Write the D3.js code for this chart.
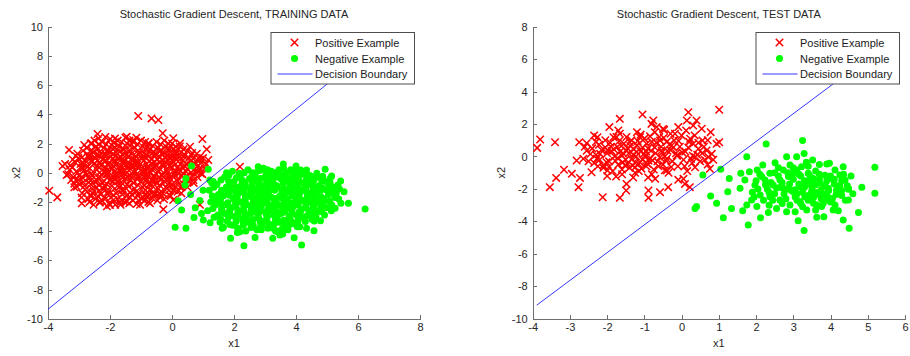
<!DOCTYPE html>
<html>
<head>
<meta charset="utf-8">
<script src="https://cdn.jsdelivr.net/npm/d3@7"></script>
<style>
body { margin: 0; background: #fff; }
svg { display: block; font-family: "Liberation Sans", Arial, sans-serif; }
.axis path, .axis line { stroke: #6e6e6e; shape-rendering: crispEdges; }
.axis text { fill: #262626; font-size: 11px; font-family: "Liberation Sans", Arial, sans-serif; }
</style>
</head>
<body>
<svg id="chart" width="910" height="356"></svg>
<script>
// training data, positive class (red x)
const trainPos = [
  [-1.09,3.88],[-0.66,3.72],[-0.44,3.61],[-0.30,2.70],[-2.40,2.65],[-3.32,1.56],[-3.96,-1.23],[-3.70,-1.69],
  [-2.91,-2.10],[-0.28,-2.51],[-1.14,-2.14],[0.98,2.31],[1.12,1.60],[1.17,0.87],[0.58,1.78],[-3.53,0.46],
  [-3.40,-0.16],[-3.45,0.60],[-3.07,-0.96],[-3.02,-0.50],[-2.86,0.30],[-2.70,1.10],[-2.59,2.01],[-1.84,2.35],
  [-1.46,2.47],[-1.25,2.24],[-0.76,2.01],[0.04,2.36],[0.26,2.01],[0.63,1.21],[0.80,0.87],[0.85,0.07],
  [0.47,-0.27],[0.31,-0.96],[0.04,-1.18],[-0.39,-1.41],[-0.82,-1.64],[-1.46,-1.98],[-1.89,-1.87],[-2.32,-1.98],
  [-2.65,-1.53],[-2.00,-2.21],[-1.68,-2.05],[-0.71,-2.10],[0.04,-1.87],[0.69,-0.50],[2.19,0.41],[1.9,-0.75],[0.9,-2.2],
  [-3.3,0.2],[-3.25,-0.5],[-3.2,0.9],[-3.35,-0.1],[-3.15,-1.0],[-3.28,0.5],
  [-3.05,1.3],[-2.95,0.6],[-3.0,-0.2],[-2.98,-0.8],[-3.08,0.1],[-2.9,-1.4],[-3.02,1.0],[-2.92,0.3],[-3.1,-0.5],
  [-2.75,1.7],[-2.7,1.2],[-2.8,0.8],[-2.72,0.4],[-2.78,0.0],[-2.68,-0.4],[-2.82,-0.9],[-2.74,-1.3],[-2.7,-1.8],[-2.85,0.55],[-2.65,0.95],[-2.76,-0.15],
  [-2.5,2.2],[-2.45,1.8],[-2.55,1.4],[-2.48,1.0],[-2.52,0.6],[-2.42,0.2],[-2.58,-0.2],[-2.5,-0.6],[-2.44,-1.0],[-2.56,-1.4],[-2.47,-1.8],[-2.53,-2.2],[-2.4,0.45],[-2.6,0.85],[-2.38,-0.35],[-2.62,-0.8],
  [-2.25,2.1],[-2.2,1.7],[-2.3,1.3],[-2.22,0.9],[-2.28,0.5],[-2.18,0.1],[-2.32,-0.3],[-2.24,-0.7],[-2.2,-1.1],[-2.3,-1.5],[-2.26,-1.9],[-2.15,2.45],[-2.35,0.7],[-2.12,-0.1],[-2.36,-1.25],[-2.14,1.15],
  [-2.0,2.3],[-1.95,1.9],[-2.05,1.5],[-1.98,1.1],[-2.02,0.7],[-1.92,0.3],[-2.08,-0.1],[-2.0,-0.5],[-1.94,-0.9],[-2.06,-1.3],[-1.97,-1.7],[-2.03,-2.1],[-1.9,0.95],[-2.1,0.15],[-1.88,-0.3],[-2.12,-0.75],[-1.9,1.6],
  [-1.75,2.2],[-1.7,1.8],[-1.8,1.4],[-1.72,1.0],[-1.78,0.6],[-1.68,0.2],[-1.82,-0.2],[-1.74,-0.6],[-1.7,-1.0],[-1.8,-1.4],[-1.76,-1.8],[-1.66,-2.2],[-1.85,0.85],[-1.64,0.45],[-1.86,-0.45],[-1.62,-1.2],[-1.6,1.25],
  [-1.5,2.4],[-1.45,2.0],[-1.55,1.6],[-1.48,1.2],[-1.52,0.8],[-1.42,0.4],[-1.58,0.0],[-1.5,-0.4],[-1.44,-0.8],[-1.56,-1.2],[-1.47,-1.6],[-1.53,-2.0],[-1.38,0.65],[-1.62,0.25],[-1.36,-0.15],[-1.64,-0.65],[-1.4,1.45],[-1.35,-1.35],
  [-1.25,2.1],[-1.2,1.7],[-1.3,1.3],[-1.22,0.9],[-1.28,0.5],[-1.18,0.1],[-1.32,-0.3],[-1.24,-0.7],[-1.2,-1.1],[-1.3,-1.5],[-1.26,-1.9],[-1.15,2.4],[-1.12,0.7],[-1.34,0.25],[-1.12,-0.45],[-1.1,-1.6],[-1.15,1.1],
  [-1.0,2.2],[-0.95,1.8],[-1.05,1.4],[-0.98,1.0],[-1.02,0.6],[-0.92,0.2],[-1.08,-0.2],[-1.0,-0.6],[-0.94,-1.0],[-1.06,-1.4],[-0.97,-1.8],[-1.03,-2.2],[-0.9,0.85],[-1.1,0.4],[-0.88,-0.35],[-0.9,1.35],[-0.86,-1.2],
  [-0.75,2.0],[-0.7,1.6],[-0.8,1.2],[-0.72,0.8],[-0.78,0.4],[-0.68,0.0],[-0.82,-0.4],[-0.74,-0.8],[-0.7,-1.2],[-0.8,-1.6],[-0.76,-2.0],[-0.65,0.6],[-0.85,0.15],[-0.62,-0.6],[-0.64,1.3],[-0.6,-1.5],
  [-0.5,2.1],[-0.45,1.7],[-0.55,1.3],[-0.48,0.9],[-0.52,0.5],[-0.42,0.1],[-0.58,-0.3],[-0.5,-0.7],[-0.44,-1.1],[-0.56,-1.5],[-0.47,-1.9],[-0.38,0.7],[-0.6,0.3],[-0.36,-0.5],[-0.4,1.45],[-0.35,-1.3],
  [-0.25,2.2],[-0.2,1.8],[-0.3,1.4],[-0.22,1.0],[-0.28,0.6],[-0.18,0.2],[-0.32,-0.2],[-0.24,-0.6],[-0.2,-1.0],[-0.3,-1.4],[-0.26,-1.8],[-0.12,0.8],[-0.14,-0.4],[-0.1,1.5],[-0.1,-1.2],
  [0.0,2.0],[0.05,1.6],[-0.05,1.2],[0.02,0.8],[-0.02,0.4],[0.08,0.0],[-0.06,-0.4],[0.0,-0.8],[0.06,-1.2],[-0.04,-1.6],[0.12,0.6],[0.1,-0.2],[0.14,1.3],
  [0.25,1.8],[0.3,1.4],[0.2,1.0],[0.28,0.6],[0.22,0.2],[0.32,-0.2],[0.18,-0.6],[0.26,-1.0],[0.35,0.35],[0.38,1.1],[0.3,-1.4],
  [0.5,1.5],[0.55,1.0],[0.45,0.6],[0.52,0.2],[0.48,-0.2],[0.56,-0.6],[0.6,0.8],[0.62,0.0],[0.5,-1.0],
  [0.8,1.3],[0.85,0.5],[0.75,0.1],[0.82,-0.3],[0.9,0.9],[0.7,-0.7],
  [1.0,1.0],[1.05,0.3],[0.98,-0.1],[1.1,0.6],
  [-3.12,0.7],[-3.18,-0.3],[-3.1,1.15],[-3.15,-0.75],[-3.22,0.35],
  [-2.87,1.5],[-2.9,1.05],[-2.84,0.15],[-2.88,-0.35],[-2.86,-0.65],[-2.8,-1.15],[-2.92,-1.7],[-2.83,1.9],
  [-2.62,2.0],[-2.6,1.55],[-2.64,1.15],[-2.58,0.75],[-2.66,0.3],[-2.6,-0.05],[-2.63,-0.55],[-2.57,-1.1],[-2.61,-1.6],[-2.66,-2.0],
  [-2.37,2.35],[-2.35,1.95],[-2.4,1.6],[-2.33,1.15],[-2.39,0.85],[-2.34,0.0],[-2.41,-0.55],[-2.35,-0.85],[-2.39,-1.6],[-2.33,-2.05],[-2.42,1.25],
  [-2.12,1.95],[-2.1,1.5],[-2.15,0.85],[-2.08,0.55],[-2.14,0.35],[-2.1,-0.35],[-2.16,-0.95],[-2.08,-1.45],[-2.13,-1.75],[-2.1,-2.3],[-2.15,1.3],
  [-1.87,2.05],[-1.85,1.75],[-1.9,1.3],[-1.83,1.15],[-1.89,0.45],[-1.84,0.1],[-1.9,-0.6],[-1.85,-1.1],[-1.88,-1.55],[-1.83,-2.2],[-1.86,0.7],[-1.82,-0.05],
  [-1.62,2.1],[-1.6,1.65],[-1.65,1.05],[-1.58,0.8],[-1.64,0.05],[-1.59,-0.35],[-1.66,-0.9],[-1.6,-1.5],[-1.63,-1.9],[-1.57,0.6],[-1.61,-0.15],[-1.67,1.45],
  [-1.37,2.2],[-1.35,1.85],[-1.4,1.15],[-1.33,0.9],[-1.39,0.15],[-1.34,-0.5],[-1.4,-0.95],[-1.35,-1.7],[-1.38,-2.1],[-1.32,0.5],[-1.41,-0.3],[-1.36,1.55],
  [-1.12,1.95],[-1.1,1.5],[-1.15,0.85],[-1.08,0.3],[-1.14,-0.1],[-1.1,-0.85],[-1.16,-1.3],[-1.08,-1.9],[-1.13,0.55],[-1.11,-0.25],[-1.07,1.25],
  [-0.87,2.1],[-0.85,1.6],[-0.9,1.1],[-0.83,0.6],[-0.89,0.0],[-0.84,-0.55],[-0.9,-0.85],[-0.85,-1.45],[-0.88,-1.9],[-0.82,0.35],[-0.86,-0.15],[-0.8,1.75],
  [-0.62,1.85],[-0.6,1.45],[-0.65,0.95],[-0.58,0.45],[-0.64,0.2],[-0.59,-0.2],[-0.66,-0.85],[-0.6,-1.3],[-0.63,-1.75],[-0.57,0.7],[-0.61,-0.45],[-0.55,1.15],
  [-0.37,1.95],[-0.35,1.55],[-0.4,1.1],[-0.33,0.55],[-0.39,0.25],[-0.34,-0.15],[-0.4,-0.85],[-0.35,-1.55],[-0.38,-1.7],[-0.32,0.85],[-0.41,-0.3],[-0.3,1.25],
  [-0.12,2.0],[-0.1,1.65],[-0.15,1.2],[-0.08,0.45],[-0.14,0.0],[-0.1,-0.7],[-0.16,-1.05],[-0.08,-1.55],[-0.13,0.6],[-0.11,-0.2],[-0.06,1.05],
  [0.12,1.8],[0.15,1.45],[0.1,1.05],[0.17,0.35],[0.11,0.15],[0.16,-0.5],[0.1,-0.95],[0.18,-1.3],[0.13,0.9],[0.2,-0.05],
  [0.37,1.6],[0.4,1.25],[0.35,0.85],[0.42,0.45],[0.36,-0.05],[0.41,-0.45],[0.38,-0.8],[0.44,0.1],
  [0.65,1.35],[0.68,0.95],[0.62,0.45],[0.7,0.2],[0.66,-0.25],[0.72,0.65],
  [0.9,1.1],[0.95,0.7],[0.88,0.25],[0.93,-0.05]
];

// training data, negative class (green dots)
const trainNeg = [
  [0.63,0.46],[1.17,0.23],[0.45,-0.39],[0.42,-0.84],[1.28,-0.68],[0.10,-3.74],[0.45,-3.81],[0.20,-1.92],
  [0.31,-2.55],[0.71,-3.06],[1.01,-3.24],[1.23,-3.42],[1.89,-4.49],[2.32,-5.00],[2.68,-4.43],[3.25,-4.49],
  [3.94,-4.45],[4.18,-4.95],[3.59,0.60],[4.00,0.46],[4.15,0.18],[2.78,0.41],[4.94,0.23],[5.15,-0.23],
  [5.44,-0.57],[5.55,-1.30],[5.69,-2.10],[6.23,-2.49],[5.26,-2.44],[4.79,-3.29],[4.58,-3.97],[4.34,0.18],
  [4.67,-0.04],[2.17,-0.04],[1.76,0.00],[3.16,0.07],[2.30,-3.35],[1.66,-3.74],[3.48,-4.27],[4.34,-3.81],
  [2.19,-4.04],[3.57,-4.20],[3.43,-4.04],[0.9,-1.9],[0.75,-2.4],[0.6,-1.5],[1.0,-1.2],[0.95,-2.8],
  [1.2,-1.2],[1.25,-2.0],[1.15,-2.6],[1.3,-1.6],[1.22,-0.5],
  [1.45,-0.8],[1.5,-1.5],[1.4,-2.2],[1.48,-2.9],[1.55,-3.4],[1.42,-1.9],
  [1.7,-0.3],[1.75,-1.0],[1.65,-1.6],[1.72,-2.2],[1.68,-2.8],[1.78,-3.3],[1.62,-3.8],[1.8,-1.3],[1.6,-2.5],
  [1.95,0.1],[2.0,-0.6],[1.9,-1.2],[1.98,-1.8],[1.92,-2.4],[2.02,-3.0],[1.96,-3.6],[2.05,-2.1],[1.88,-0.9],[2.08,-1.5],[1.86,-2.7],
  [2.2,-0.2],[2.25,-0.8],[2.15,-1.4],[2.22,-2.0],[2.18,-2.6],[2.28,-3.2],[2.12,-3.8],[2.3,-1.1],[2.1,-1.7],[2.32,-2.3],[2.14,-2.95],[2.26,-0.5],
  [2.45,0.2],[2.5,-0.4],[2.4,-1.0],[2.48,-1.6],[2.42,-2.2],[2.52,-2.8],[2.46,-3.4],[2.38,-4.0],[2.55,-1.3],[2.36,-1.9],[2.56,-2.5],[2.4,-3.1],[2.58,-0.7],
  [2.7,0.0],[2.75,-0.6],[2.65,-1.2],[2.72,-1.8],[2.68,-2.4],[2.78,-3.0],[2.62,-3.6],[2.8,-0.9],[2.6,-1.5],[2.82,-2.1],[2.64,-2.7],[2.84,-3.3],[2.66,-0.3],[2.74,-3.9],
  [2.95,0.3],[3.0,-0.3],[2.9,-0.9],[2.98,-1.5],[2.92,-2.1],[3.02,-2.7],[2.96,-3.3],[2.88,-3.9],[3.05,-0.6],[2.86,-1.2],[3.06,-1.8],[2.87,-2.4],[3.08,-3.0],[2.9,-3.6],[3.04,0.0],
  [3.2,0.1],[3.25,-0.5],[3.15,-1.1],[3.22,-1.7],[3.18,-2.3],[3.28,-2.9],[3.12,-3.5],[3.3,-0.8],[3.1,-1.4],[3.32,-2.0],[3.14,-2.6],[3.34,-3.2],[3.16,-0.2],[3.26,-3.8],
  [3.45,0.2],[3.5,-0.4],[3.4,-1.0],[3.48,-1.6],[3.42,-2.2],[3.52,-2.8],[3.46,-3.4],[3.38,-4.0],[3.55,-1.3],[3.36,-1.9],[3.56,-2.5],[3.4,-3.1],[3.58,-0.7],[3.37,-0.1],
  [3.7,0.0],[3.75,-0.6],[3.65,-1.2],[3.72,-1.8],[3.68,-2.4],[3.78,-3.0],[3.62,-3.6],[3.8,-0.9],[3.6,-1.5],[3.82,-2.1],[3.64,-2.7],[3.84,-3.3],[3.66,-0.3],[3.74,-3.9],
  [3.95,0.1],[4.0,-0.5],[3.9,-1.1],[3.98,-1.7],[3.92,-2.3],[4.02,-2.9],[3.96,-3.5],[4.05,-0.8],[3.86,-1.4],[4.06,-2.0],[3.87,-2.6],[4.08,-3.2],[3.9,-0.2],
  [4.2,-0.1],[4.25,-0.7],[4.15,-1.3],[4.22,-1.9],[4.18,-2.5],[4.28,-3.1],[4.12,-3.7],[4.3,-1.0],[4.1,-1.6],[4.32,-2.2],[4.14,-2.8],[4.34,-0.4],
  [4.45,-0.2],[4.5,-0.8],[4.4,-1.4],[4.48,-2.0],[4.42,-2.6],[4.52,-3.2],[4.55,-1.1],[4.36,-1.7],[4.56,-2.3],[4.4,-2.9],[4.58,-0.5],
  [4.7,-0.3],[4.75,-0.9],[4.65,-1.5],[4.72,-2.1],[4.68,-2.7],[4.8,-1.2],[4.6,-1.8],[4.82,-2.4],[4.64,-3.0],
  [4.95,-0.6],[5.0,-1.2],[4.9,-1.8],[4.98,-2.4],[5.05,-1.5],[4.88,-2.1],[5.06,-0.9],[4.92,-2.9],
  [5.2,-1.0],[5.25,-1.7],[5.15,-2.2],[5.3,-1.4],
  [1.35,-1.0],[1.38,-1.75],[1.32,-2.45],[1.36,-3.05],[1.33,-0.6],
  [1.58,-0.5],[1.6,-1.2],[1.56,-1.9],[1.62,-2.65],[1.57,-3.2],[1.6,-2.25],
  [1.83,-0.6],[1.85,-1.55],[1.8,-2.05],[1.86,-2.55],[1.82,-3.05],[1.87,-3.55],[1.84,-0.15],[1.8,-1.0],
  [2.08,-0.35],[2.1,-1.0],[2.06,-2.35],[2.12,-2.75],[2.07,-3.35],[2.11,-4.1],[2.05,-1.25],[2.09,-1.9],
  [2.33,0.0],[2.35,-0.65],[2.31,-1.3],[2.37,-1.65],[2.32,-2.6],[2.36,-2.95],[2.3,-3.6],[2.34,-2.1],[2.38,-1.0],
  [2.58,0.0],[2.6,-1.0],[2.56,-1.65],[2.62,-2.0],[2.57,-2.25],[2.61,-3.2],[2.55,-3.75],[2.59,-0.35],[2.63,-2.65],[2.54,-1.35],
  [2.83,0.15],[2.85,-0.4],[2.81,-1.5],[2.87,-1.85],[2.82,-2.7],[2.86,-3.65],[2.8,-0.65],[2.84,-1.15],[2.88,-2.25],[2.79,-3.1],
  [3.08,0.2],[3.1,-0.35],[3.06,-1.05],[3.12,-1.55],[3.07,-2.05],[3.11,-2.45],[3.05,-3.25],[3.09,-3.8],[3.13,-0.8],[3.04,-2.85],[3.1,-1.3],
  [3.33,0.0],[3.35,-0.3],[3.31,-1.2],[3.37,-1.75],[3.32,-2.45],[3.36,-2.7],[3.3,-3.5],[3.34,-4.0],[3.38,-0.9],[3.29,-2.15],[3.35,-3.05],
  [3.58,-0.15],[3.6,-1.1],[3.56,-1.75],[3.62,-2.05],[3.57,-2.65],[3.61,-3.25],[3.55,-3.85],[3.59,-0.5],[3.63,-1.45],[3.54,-2.35],[3.6,0.3],
  [3.83,0.2],[3.85,-0.4],[3.81,-1.3],[3.87,-1.6],[3.82,-2.45],[3.86,-2.85],[3.8,-3.55],[3.84,-0.75],[3.88,-2.1],[3.79,-3.15],
  [4.08,-0.2],[4.1,-0.55],[4.06,-1.45],[4.12,-1.85],[4.07,-2.2],[4.11,-2.65],[4.05,-3.35],[4.09,-1.1],[4.13,-3.0],[4.04,-3.7],
  [4.33,-0.1],[4.35,-0.85],[4.31,-1.2],[4.37,-1.55],[4.32,-2.4],[4.36,-2.95],[4.3,-3.35],[4.34,-2.05],[4.38,-0.6],
  [4.58,-0.35],[4.6,-1.3],[4.56,-1.95],[4.62,-2.55],[4.57,-2.85],[4.61,-0.95],[4.55,-1.6],[4.59,-3.3],
  [4.83,-0.55],[4.85,-1.05],[4.81,-1.65],[4.87,-2.25],[4.82,-2.65],[4.86,-0.25],[4.8,-1.95],
  [5.1,-0.7],[5.12,-1.3],[5.08,-1.95],[5.14,-2.6],[5.1,-0.4],
  [5.4,-1.1],[5.38,-1.8],[5.45,-2.1],[5.35,-0.85]
];

// test data, positive class (red x)
const testPos = [
  [-3.88,0.53],[-3.80,1.05],[-3.40,0.88],[-3.54,-1.89],[-3.37,-1.32],[-3.16,-0.82],[-2.95,-1.07],[-2.73,-1.32],
  [-2.77,-1.89],[-2.75,0.88],[-2.55,0.82],[-2.64,-0.14],[-2.82,-0.25],[-2.42,-0.97],[-2.12,-2.51],[-2.26,1.19],
  [-1.94,1.81],[-1.66,2.32],[-1.66,-2.55],[-1.48,-1.69],[-1.49,-2.10],[-1.76,-1.23],[-1.99,-0.86],[-2.19,0.16],
  [-2.28,-0.14],[-2.10,-0.55],[-1.99,0.37],[-1.83,1.19],[-1.66,1.40],[-1.73,0.58],[-1.61,0.06],[-1.48,0.37],
  [-1.39,0.88],[-1.34,-0.14],[-1.25,-0.66],[-1.16,-0.45],[-1.21,0.27],[-1.05,2.59],[-1.12,1.19],[-0.94,0.78],
  [-1.01,0.16],[-0.89,-0.25],[-0.81,2.01],[-0.76,2.22],[-0.67,1.81],[-0.58,0.99],[-0.54,0.37],[-0.71,-1.38],
  [-0.89,-2.10],[-0.89,-2.55],[-0.58,-2.20],[-0.36,-1.89],[-0.47,1.64],[-0.40,-0.14],[-0.27,0.68],[-0.18,1.40],
  [-0.09,1.81],[-0.13,0.06],[0.05,-1.38],[0.09,-1.69],[0.22,-1.89],[0.14,2.22],[0.18,2.73],[0.31,1.91],
  [0.40,2.22],[0.23,1.09],[0.31,0.78],[0.36,-0.04],[0.45,0.47],[0.54,1.71],[0.56,0.99],[0.67,0.37],
  [0.72,-0.04],[0.76,-0.76],[1.01,2.88],[0.94,0.78],[1.01,0.88],[0.81,0.16],[0.36,-0.66],[-0.09,-1.44],[-0.40,-0.86],
  [-2.4,0.5],[-2.35,-0.4],[-2.3,0.9],[-2.2,-0.2],[-2.15,0.4],[-2.1,-0.7],[-2.05,1.0],[-2.0,0.2],[-1.95,-0.3],
  [-1.9,0.6],[-1.85,-0.9],[-1.8,0.0],[-1.75,1.2],[-1.7,-0.5],[-1.65,0.3],[-1.6,-1.1],[-1.55,0.8],[-1.5,-0.2],
  [-1.45,0.5],[-1.4,-0.7],[-1.35,1.0],[-1.3,0.1],[-1.25,-0.4],[-1.2,0.7],[-1.15,-0.9],[-1.1,0.3],[-1.05,-0.2],
  [-1.0,1.1],[-0.95,-0.6],[-0.9,0.5],[-0.85,-0.1],[-0.8,0.9],[-0.75,-0.8],[-0.7,0.2],[-0.65,-0.3],[-0.6,1.2],
  [-0.55,0.6],[-0.5,-0.5],[-0.45,0.0],[-0.4,0.9],[-0.35,-1.0],[-0.3,0.4],[-0.25,-0.3],[-0.2,1.0],[-0.15,0.2],
  [-0.1,-0.6],[-0.05,0.6],[0.0,1.3],[0.05,-0.2],[0.1,0.3],[0.15,-0.9],[0.2,0.9],[0.28,-0.4],[0.35,1.3],
  [0.42,0.1],[0.5,-0.3],[0.6,0.6],[0.7,-0.5],[0.78,1.5],[0.85,-0.2],[-2.0,-1.2],[-1.7,1.6],[-1.3,-1.3],
  [-1.2,1.5],[-0.9,-1.3],[-0.5,1.7],[-2.5,-0.3],[-2.45,0.15],[-1.62,0.65],[-1.28,0.45],[-0.98,0.05],[-0.72,0.55],
  [-0.32,0.75],[-1.88,0.33],[-1.52,-0.55],[-1.08,-0.75],[-0.58,-0.05],[-2.22,0.72],[-0.12,0.05],[0.3,0.05],
  [-1.78,-0.28],[-1.42,0.2],[-0.82,0.35],[-0.42,-0.25],
  [-2.55,0.35],[-2.3,0.1],[-2.25,-0.6],[-2.05,0.55],[-2.02,-0.35],[-1.92,0.85],[-1.82,0.45],[-1.72,-0.1],
  [-1.68,0.95],[-1.58,-0.35],[-1.55,0.15],[-1.45,-0.45],[-1.38,0.65],[-1.32,-0.55],[-1.22,0.0],[-1.18,0.95],
  [-1.12,-0.35],[-1.05,0.55],[-0.95,0.3],[-0.92,-0.45],[-0.85,1.25],[-0.78,-0.25],[-0.68,0.85],[-0.62,-0.6],
  [-0.52,0.25],[-0.48,1.15],[-0.38,0.35],[-0.28,-0.65],[-0.22,0.55],[-0.08,0.95],[0.02,0.25],[0.08,-0.6],
  [0.18,0.55],[0.25,-0.15],[0.45,0.85],[0.55,0.2],[0.62,-0.2],[0.7,1.0],[-1.48,1.2],[-1.1,1.35],[-0.72,1.5],
  [-0.3,1.4],[0.12,1.6],[-1.95,-0.65],[-1.6,-0.8],[-1.25,-1.0],[-0.8,-1.1],[-0.45,-0.85],[-2.6,0.6],[-2.35,1.3]
];

// test data, negative class (green dots)
const testNeg = [
  [0.57,-1.14],[1.05,-0.79],[1.28,-1.35],[1.75,-0.01],[2.27,0.77],[3.25,0.98],[3.29,0.19],[2.82,-0.01],
  [3.52,-0.22],[3.90,-0.46],[4.34,-0.63],[5.19,-0.67],[5.19,-2.27],[4.84,-1.90],[4.48,-2.02],[4.48,-2.68],
  [4.75,-3.46],[4.50,-4.43],[4.34,-3.92],[3.82,-3.71],[3.63,-3.75],[3.29,-4.57],[3.13,-3.96],[2.82,-3.40],
  [2.55,-3.20],[2.33,-3.46],[2.12,-3.77],[1.79,-4.22],[1.64,-3.34],[1.34,-3.20],[1.12,-3.77],[0.94,-2.89],
  [0.78,-2.44],[0.36,-3.20],[0.40,-3.09],[1.24,-2.17],[1.57,-1.96],[1.59,-1.04],[1.82,-0.94],[2.03,-0.83],
  [2.18,-0.52],[2.51,-0.38],[2.87,-1.24],[2.91,-0.52],[3.09,-0.83],[3.22,-0.63],[3.40,-1.04],[3.54,-1.35],
  [3.72,-1.65],[3.99,-1.35],[4.12,-0.83],[4.25,-1.14],[4.30,-1.49],[4.16,-2.07],[3.89,-2.68],[3.63,-2.99],
  [3.36,-3.30],[3.18,-2.78],[2.91,-2.99],[2.64,-2.68],[2.37,-2.48],[2.11,-2.37],[1.88,-2.68],[1.75,-2.99],
  [2.02,-3.09],[1.70,-1.45],[1.97,-1.76],[2.24,-1.45],[2.46,-1.76],[2.64,-1.45],[2.73,-1.96],[3.00,-2.17],
  [3.18,-1.86],[3.31,-2.48],[3.49,-2.17],[3.72,-2.37],[3.94,-1.96],[2.37,-1.04],[2.15,-1.24],[2.73,-0.83],
  [3.09,-0.01],[3.45,-1.45],[4.07,-3.30],[3.54,-2.89],[3.05,-3.40],[4.48,-1.96],[4.39,-1.45],[3.97,-0.42],
  [4.12,-2.99],[4.21,-3.34],[3.99,-2.58],[3.76,-3.09],
  [2.0,-1.5],[2.3,-2.0],[2.6,-1.2],[2.9,-1.7],[3.1,-2.3],[3.3,-1.5],[3.5,-1.9],[3.7,-1.1],[3.9,-2.3],
  [4.1,-1.7],[4.3,-2.4],[2.5,-2.3],[2.8,-2.6],[3.0,-1.0],[3.2,-2.9],[3.4,-2.4],[3.6,-0.9],[3.8,-2.9],
  [4.0,-1.2],[4.2,-2.0],[3.3,-1.9],[3.6,-2.2],[2.95,-2.1],[2.65,-1.9],[3.85,-1.8],[4.05,-2.6],[3.45,-1.2],
  [3.15,-1.7],[2.2,-2.7],[1.9,-2.2],[3.75,-2.6],[3.05,-2.5],[4.4,-2.7],[4.45,-1.8],[2.4,-1.6],
  [2.1,-1.1],[2.25,-1.75],[2.35,-2.2],[2.5,-1.0],[2.55,-1.95],[2.7,-1.6],[2.75,-2.3],[2.85,-1.0],[2.85,-2.0],
  [3.0,-1.4],[3.05,-2.05],[3.1,-2.7],[3.2,-1.2],[3.25,-2.2],[3.35,-1.7],[3.4,-2.7],[3.5,-1.5],[3.55,-2.5],
  [3.6,-1.75],[3.7,-1.4],[3.75,-2.05],[3.8,-2.4],[3.9,-1.5],[3.95,-2.1],[4.0,-2.8],[4.1,-1.4],[4.15,-2.35],
  [4.25,-1.8],[4.3,-2.1],[4.35,-1.1],[2.45,-2.7],[2.7,-2.9],[3.25,-3.1],[3.6,-3.3],[3.0,-0.7],[3.4,-0.6],
  [3.7,-0.5],[2.6,-0.7],[1.95,-2.5],[2.05,-2.0],[3.15,-1.1],[3.85,-1.15],[4.55,-1.2],[4.6,-2.3],[2.35,-3.0],[3.35,-0.35]
];

// decision boundary x2 = slope * x1 + intercept, drawn between two x1 values
const boundarySlope = 1.713;
const boundaryIntercept = -2.5;
const trainBoundaryX = [-4, 6.6];
const testBoundaryX = [-3.89, 5.0];

const trainXTicks = [-4, -2, 0, 2, 4, 6, 8];
const trainYTicks = [-10, -8, -6, -4, -2, 0, 2, 4, 6, 8, 10];
const testXTicks = [-4, -3, -2, -1, 0, 1, 2, 3, 4, 5, 6];
const testYTicks = [-10, -8, -6, -4, -2, 0, 2, 4, 6, 8];

const legendLabels = ["Positive Example", "Negative Example", "Decision Boundary"];

const svg = d3.select("#chart");

function drawPanel(p) {
    var x = d3.scaleLinear().domain(p.xDomain).range([p.left, p.right]);
    var y = d3.scaleLinear().domain(p.yDomain).range([p.bottom, p.top]);
    var g = svg.append("g");

    g.append("g")
        .attr("class", "axis")
        .attr("transform", "translate(0," + p.bottom + ")")
        .call(d3.axisBottom(x).tickValues(p.xTicks).tickFormat(d3.format("d"))
            .tickSize(-4).tickSizeOuter(0).tickPadding(5));

    g.append("g")
        .attr("class", "axis")
        .attr("transform", "translate(" + p.left + ",0)")
        .call(d3.axisLeft(y).tickValues(p.yTicks).tickFormat(d3.format("d"))
            .tickSize(-4).tickSizeOuter(0).tickPadding(5));

    // plain hyphen minus like the original
    g.selectAll(".axis text").text(function (d) { return String(d); });

    // red crosses
    var cross = d3.symbol().type(d3.symbolX).size(38);
    g.append("g").selectAll("path")
        .data(p.pos)
        .enter().append("path")
        .attr("d", cross)
        .attr("transform", function (d) { return "translate(" + x(d[0]) + "," + y(d[1]) + ")"; })
        .style("fill", "none")
        .style("stroke", "#ff0000")
        .style("stroke-width", 1.5);

    // green dots
    g.append("g").selectAll("circle")
        .data(p.neg)
        .enter().append("circle")
        .attr("cx", function (d) { return x(d[0]); })
        .attr("cy", function (d) { return y(d[1]); })
        .attr("r", 3.5)
        .style("fill", "#00ff00");

    // decision boundary
    var line = d3.line()
        .x(function (d) { return x(d); })
        .y(function (d) { return y(boundarySlope * d + boundaryIntercept); });
    g.append("path")
        .datum(p.boundaryX)
        .attr("d", line)
        .style("fill", "none")
        .style("stroke", "#0000ff")
        .style("stroke-width", 0.8);

    // title and axis labels
    g.append("text")
        .attr("x", (p.left + p.right) / 2)
        .attr("y", 18)
        .attr("text-anchor", "middle")
        .style("font-size", "11px")
        .style("fill", "#262626")
        .text(p.title);

    g.append("text")
        .attr("x", (p.left + p.right) / 2)
        .attr("y", 347)
        .attr("text-anchor", "middle")
        .style("font-size", "11px")
        .style("fill", "#262626")
        .text("x1");

    g.append("text")
        .attr("transform", "translate(" + p.ylabelX + "," + ((p.top + p.bottom) / 2) + ") rotate(-90)")
        .attr("text-anchor", "middle")
        .style("font-size", "11px")
        .style("fill", "#262626")
        .text("x2");

    // legend
    var lg = g.append("g").attr("transform", "translate(" + p.legendX + "," + p.legendY + ")");
    lg.append("rect")
        .attr("x", 0.5).attr("y", 0.5)
        .attr("width", 143.5).attr("height", 51.5)
        .style("fill", "#fff")
        .style("stroke", "#4d4d4d")
        .style("stroke-width", 1);
    var rows = [10.5, 26.5, 42];
    lg.append("path")
        .attr("d", cross)
        .attr("transform", "translate(24," + rows[0] + ")")
        .style("fill", "none").style("stroke", "#ff0000").style("stroke-width", 1.5);
    lg.append("circle")
        .attr("cx", 24).attr("cy", rows[1]).attr("r", 3.5)
        .style("fill", "#00ff00");
    lg.append("line")
        .attr("x1", 7).attr("x2", 42)
        .attr("y1", rows[2]).attr("y2", rows[2])
        .style("stroke", "#0000ff").style("stroke-width", 0.8);
    lg.selectAll("text.lab")
        .data(legendLabels)
        .enter().append("text")
        .attr("class", "lab")
        .attr("x", 44.5)
        .attr("y", function (d, i) { return rows[i] + 4; })
        .style("font-size", "11px")
        .style("fill", "#1a1a1a")
        .text(function (d) { return d; });
}

drawPanel({
    title: "Stochastic Gradient Descent, TRAINING DATA",
    xDomain: [-4, 8], yDomain: [-10, 10],
    left: 48, right: 420, top: 26.7, bottom: 318.7,
    xTicks: trainXTicks, yTicks: trainYTicks,
    pos: trainPos, neg: trainNeg, boundaryX: trainBoundaryX,
    ylabelX: 20, legendX: 270.5, legendY: 32
});

drawPanel({
    title: "Stochastic Gradient Descent, TEST DATA",
    xDomain: [-4, 6], yDomain: [-10, 8],
    left: 532.7, right: 905, top: 26.7, bottom: 318.7,
    xTicks: testXTicks, yTicks: testYTicks,
    pos: testPos, neg: testNeg, boundaryX: testBoundaryX,
    ylabelX: 505, legendX: 755.5, legendY: 32
});
</script>
</body>
</html>
